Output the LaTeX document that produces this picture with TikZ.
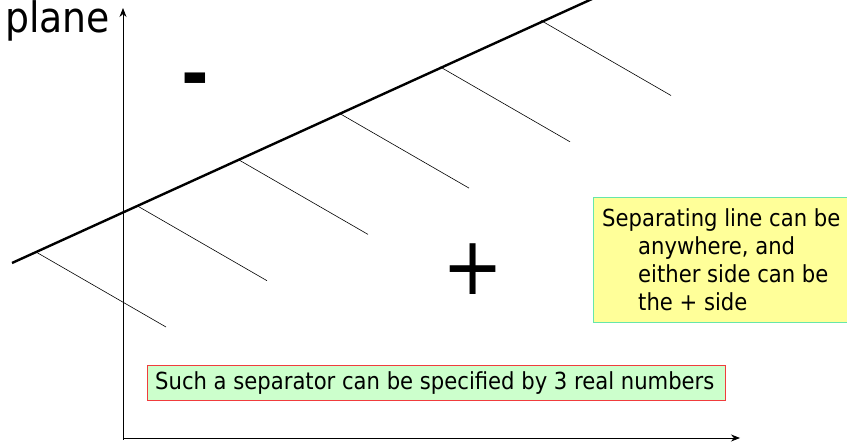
\documentclass[tikz,border=0pt]{standalone}
\usepackage{fontspec}
\setmainfont{DejaVu Sans Condensed}
\usetikzlibrary{arrows.meta}
\definecolor{yfill}{RGB}{255,255,153}
\definecolor{yborder}{RGB}{102,230,170}
\definecolor{gfill}{RGB}{204,255,204}
\definecolor{gborder}{RGB}{240,60,60}
\begin{document}
\begin{tikzpicture}[x=1pt,y=-1pt,
  axis/.style={line width=0.8pt,-{Stealth[length=9pt,width=7pt]}},
  sepline/.style={line width=2.4pt},
  hatch/.style={line width=0.6pt},
  note/.style={font=\fontsize{23.5}{28}\selectfont,inner sep=0pt}]
\useasboundingbox (0,0) rectangle (847,446);
\coordinate (O) at (123,440);
\coordinate (Ytop) at (123,8);
\coordinate (Xend) at (740,438);
\coordinate (Xstart) at (123,438);
\draw[axis] (O) -- (Ytop);
\draw[axis] (Xstart) -- (Xend);
\node[anchor=base west,font=\fontsize{42}{46}\selectfont,inner sep=0pt] (plane) at (5,33) {plane};
\coordinate (L1) at (12,263);
\coordinate (L2) at (592,-1);
\draw[sepline] (L1) -- (L2);
\foreach \i in {0,...,5}{
  \coordinate (h\i a) at ({36+101*\i},{252-46.3*\i});
  \coordinate (h\i b) at ({166+101*\i},{327-46.3*\i});
  \draw[hatch] (h\i a) -- (h\i b);
}
\node[font=\fontsize{74}{74}\selectfont\bfseries,inner sep=0pt,anchor=base] (minus) at (195,100) {-};
\node[font=\fontsize{81}{81}\selectfont,inner sep=0pt] (plus) at (473,269) {+};
\node[draw=yborder,fill=yfill,line width=1pt,anchor=north west,minimum width=256pt,minimum height=125pt,inner sep=0pt] (ybox) at (593,197) {};
\node[note,anchor=base west] (t1) at (602,227) {Separating line can be};
\node[note,anchor=base west] (t2) at (638,255) {anywhere, and};
\node[note,anchor=base west] (t3) at (638,283) {either side can be};
\node[note,anchor=base west] (t4) at (638,311) {the + side};
\node[draw=gborder,fill=gfill,line width=0.8pt,anchor=north west,minimum width=578pt,minimum height=35pt,inner sep=0pt] (gbox) at (147,365) {};
\node[note,anchor=base west] (g1) at (155,390) {Such a separator can be specified by 3 real numbers};
\end{tikzpicture}
\end{document}
